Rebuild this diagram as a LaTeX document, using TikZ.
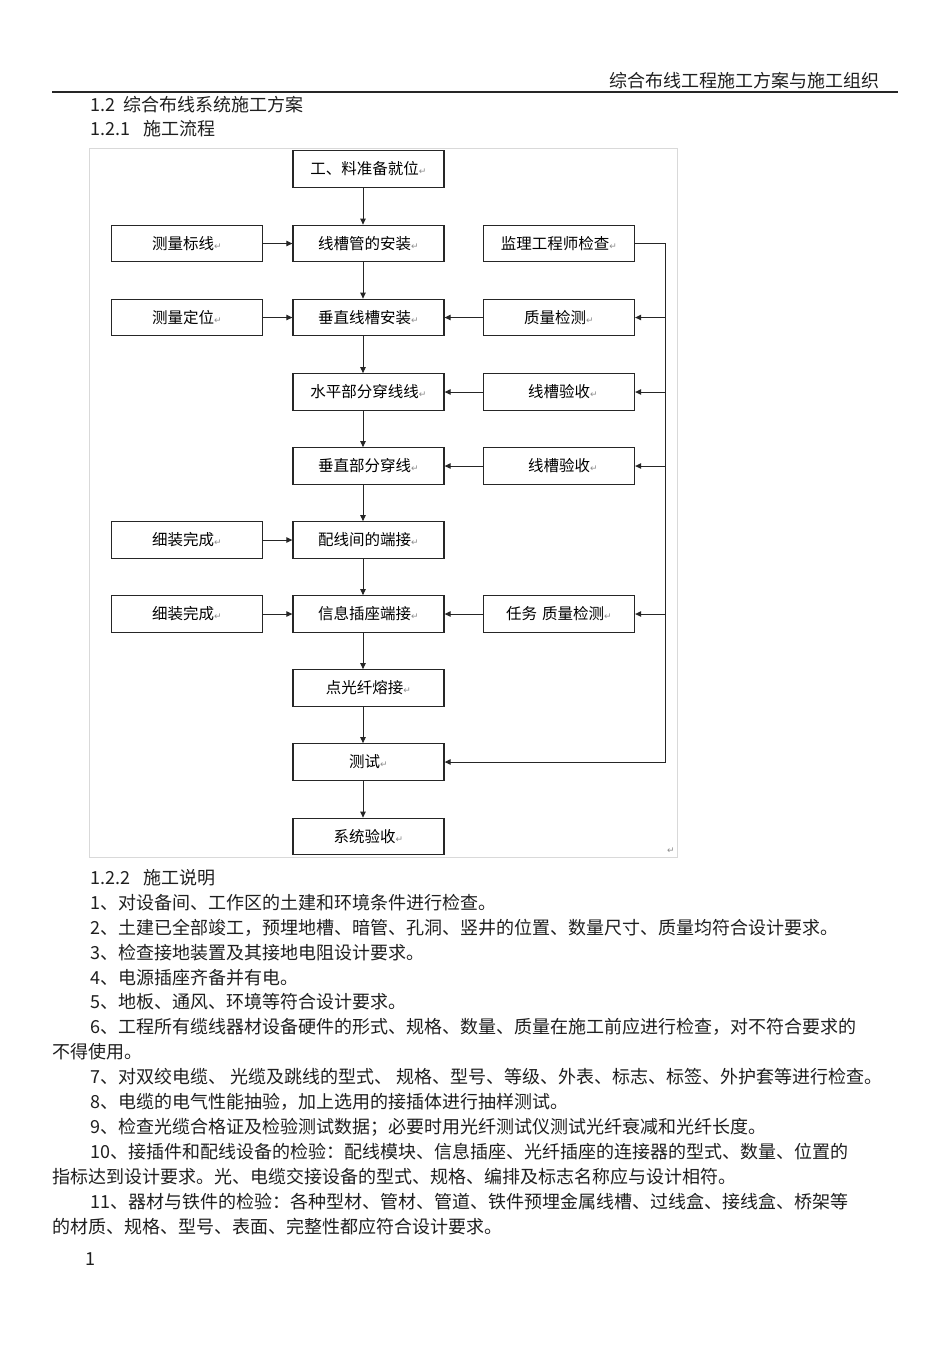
\documentclass[tikz,border=0pt]{standalone}
\usepackage{fontspec}
\setmainfont{Noto Sans CJK SC}
\newfontfamily\dejavu{DejaVu Sans}
\usetikzlibrary{arrows.meta}
\newcommand\retmark{{\dejavu\fontsize{9}{9}\selectfont\color{black!45}↵}}
\begin{document}
\begin{tikzpicture}[x=1pt,y=-1pt,
  box/.style={draw=black!85,line width=1.3pt,minimum width=151pt,minimum height=36.5pt,inner sep=0pt,font=\fontsize{15.5}{16}\selectfont},
  conn/.style={draw=black!85,line width=1pt,-{Triangle[length=6pt,width=5.5pt]}},
  body/.style={anchor=base west,inner sep=0pt,font=\fontsize{18}{18}\selectfont,text=black!88}]
\fill[white] (0,0) rectangle (950,1345);
\useasboundingbox (0,0) rectangle (950,1345);
% header
\node[anchor=base east,inner sep=0pt,font=\fontsize{18}{18}\selectfont,text=black!88] (hdr) at (880,87) {综合布线工程施工方案与施工组织};
\draw[line width=1.2pt,black!85] (52,92) -- (898,92);
\node[body] (h1) at (90,111) {\makebox[33pt][l]{1.2}综合布线系统施工方案};
\node[body] (h2) at (90,135) {\makebox[53pt][l]{1.2.1}施工流程};
% frame
\draw[black!15,line width=0.8pt] (89,148) rectangle (677,857);
\node[inner sep=0pt] (rm) at (671,851) {\retmark};
% boxes
\node[box] (c1) at (368.5,169) {工、料准备就位\retmark};
\node[box] (c2) at (368.5,243.5) {线槽管的安装\retmark};
\node[box] (l2) at (187,243.5) {测量标线\retmark};
\node[box] (r2) at (559,243.5) {监理工程师检查\retmark};
\node[box] (c3) at (368.5,317.5) {垂直线槽安装\retmark};
\node[box] (l3) at (187,317.5) {测量定位\retmark};
\node[box] (r3) at (559,317.5) {质量检测\retmark};
\node[box] (c4) at (368.5,392) {水平部分穿线线\retmark};
\node[box] (r4) at (559,392) {\hspace{8pt}线槽验收\retmark};
\node[box] (c5) at (368.5,466) {垂直部分穿线\retmark};
\node[box] (r5) at (559,466) {\hspace{8pt}线槽验收\retmark};
\node[box] (c6) at (368.5,540) {配线间的端接\retmark};
\node[box] (l6) at (187,540) {细装完成\retmark};
\node[box] (c7) at (368.5,614) {信息插座端接\retmark};
\node[box] (l7) at (187,614) {细装完成\retmark};
\node[box] (r7) at (559,614) {任务\hspace{5pt}质量检测\retmark};
\node[box] (c8) at (368.5,688) {点光纤熔接\retmark};
\node[box] (c9) at (368.5,762) {测试\retmark};
\node[box] (c10) at (368.5,836.5) {系统验收\retmark};
% connectors
\coordinate (ax) at (363,0);
\coordinate (bx) at (665,0);
\draw[conn] (c1.south -| ax) -- (c2.north -| ax);
\draw[conn] (c2.south -| ax) -- (c3.north -| ax);
\draw[conn] (c3.south -| ax) -- (c4.north -| ax);
\draw[conn] (c4.south -| ax) -- (c5.north -| ax);
\draw[conn] (c5.south -| ax) -- (c6.north -| ax);
\draw[conn] (c6.south -| ax) -- (c7.north -| ax);
\draw[conn] (c7.south -| ax) -- (c8.north -| ax);
\draw[conn] (c8.south -| ax) -- (c9.north -| ax);
\draw[conn] (c9.south -| ax) -- (c10.north -| ax);
\draw[conn] (l2) -- (c2);
\draw[conn] (l3) -- (c3);
\draw[conn] (l6) -- (c6);
\draw[conn] (l7) -- (c7);
\draw[conn] (r3) -- (c3);
\draw[conn] (r4) -- (c4);
\draw[conn] (r5) -- (c5);
\draw[conn] (r7) -- (c7);
\draw[conn] (r2.east) -- (r2.east -| bx) -- (c9.east -| bx) -- (c9.east);
\draw[conn] (r3.east -| bx) -- (r3.east);
\draw[conn] (r4.east -| bx) -- (r4.east);
\draw[conn] (r5.east -| bx) -- (r5.east);
\draw[conn] (r7.east -| bx) -- (r7.east);
% body text
\node[body] (t0) at (90,884) {\makebox[53pt][l]{1.2.2}施工说明};
\node[body] (t1) at (90,909) {1、对设备间、工作区的土建和环境条件进行检查。};
\node[body] (t2) at (90,934) {2、土建已全部竣工，预埋地槽、暗管、孔洞、竖井的位置、数量尺寸、质量均符合设计要求。};
\node[body] (t3) at (90,959) {3、检查接地装置及其接地电阻设计要求。};
\node[body] (t4) at (90,984) {4、电源插座齐备并有电。};
\node[body] (t5) at (90,1008) {5、地板、通风、环境等符合设计要求。};
\node[body] (t6) at (90,1033) {6、工程所有缆线器材设备硬件的形式、规格、数量、质量在施工前应进行检查，对不符合要求的};
\node[body] (t6b) at (52,1058) {不得使用。};
\node[body] (t7) at (90,1083) {7、对双绞电缆、 光缆及跳线的型式、 规格、型号、等级、外表、标志、标签、外护套等进行检查。};
\node[body] (t8) at (90,1108) {8、电缆的电气性能抽验，加上选用的接插体进行抽样测试。};
\node[body] (t9) at (90,1133) {9、检查光缆合格证及检验测试数据；必要时用光纤测试仪测试光纤衰减和光纤长度。};
\node[body] (t10) at (90,1158) {10、接插件和配线设备的检验：配线模块、信息插座、光纤插座的连接器的型式、数量、位置的};
\node[body] (t10b) at (52,1183) {指标达到设计要求。光、电缆交接设备的型式、规格、编排及标志名称应与设计相符。};
\node[body] (t11) at (90,1208) {11、器材与铁件的检验：各种型材、管材、管道、铁件预埋金属线槽、过线盒、接线盒、桥架等};
\node[body] (t11b) at (52,1233) {的材质、规格、型号、表面、完整性都应符合设计要求。};
\node[body] (pg) at (85,1265) {1};
\end{tikzpicture}
\end{document}
